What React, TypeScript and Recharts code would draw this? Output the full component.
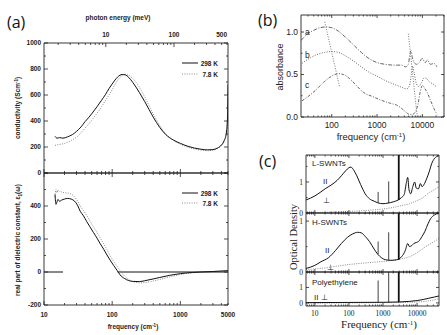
import React from "react";
import { LineChart, Line, XAxis, YAxis } from "recharts";

// ---------- panel (a): conductivity and dielectric constant ----------
const sigFreq298 = [14.5, 15.5, 17, 19, 22, 26, 30, 35, 40, 45, 50, 60, 70, 80, 90, 100, 110, 120, 130, 140, 155, 175, 200, 250, 300, 400, 500, 600, 800, 1000, 1300, 1600, 2000, 2500, 3000, 3500, 4000, 4400, 4700, 4900, 5000];
const sig298 = [282, 268, 272, 268, 278, 295, 320, 355, 395, 425, 455, 510, 560, 605, 650, 685, 715, 738, 752, 758, 755, 735, 698, 620, 550, 430, 350, 300, 252, 228, 205, 192, 183, 178, 180, 192, 215, 250, 300, 400, 680];
const sigFreq78 = [14.5, 16, 18, 20, 23, 26, 30, 35, 40, 45, 50, 60, 70, 80, 90, 100, 110, 120, 130, 140, 155, 175, 200, 250, 300, 400, 500, 600, 800, 1000, 1300, 1600, 2000, 2500, 3000, 3500, 4000, 4400, 4700, 5000];
const sig78 = [212, 218, 222, 228, 240, 255, 275, 310, 345, 375, 405, 460, 510, 560, 600, 640, 680, 712, 735, 750, 758, 752, 728, 660, 585, 455, 365, 305, 250, 222, 198, 185, 176, 172, 175, 188, 210, 245, 300, 520];

const epsFreq298 = [14.5, 15, 15.5, 16, 17, 18, 20, 22, 25, 28, 31, 34, 38, 42, 47, 53, 60, 66, 75, 84, 93, 105, 118, 131, 150, 175, 200, 250, 300, 400, 500, 700, 1000, 1500, 2000, 3000, 5000];
const eps298 = [470, 410, 425, 440, 428, 435, 442, 446, 442, 430, 405, 368, 340, 308, 275, 240, 205, 175, 138, 103, 73, 40, 10, -18, -38, -52, -57, -58, -53, -42, -33, -20, -10, -3, 0, 3, 8];
const epsFreq78 = [14.5, 15, 15.5, 16, 17, 18, 20, 23, 26, 30, 34, 38, 42, 47, 53, 60, 66, 75, 84, 93, 105, 118, 131, 150, 175, 200, 250, 300, 400, 500, 700, 1000, 1500, 2000, 3000, 5000];
const eps78 = [455, 500, 480, 495, 488, 485, 480, 478, 468, 440, 400, 372, 345, 310, 275, 240, 210, 170, 135, 100, 65, 35, 8, -22, -45, -57, -66, -64, -55, -45, -30, -15, -5, 0, 3, 8];
const epsZeroSegs = [[10, 19], [120, 5000]];

const aFreqLabels = [10, 100, 1000, 5000];
const aMevLabels = [10, 100, 500];
const sigLabels = [0, 200, 400, 600, 800, 1000];
const epsLabels = [-200, 0, 200, 400];
const CM_PER_MEV = 8.0655;

// ---------- panel (b): absorbance ----------
const absFreqA = [21, 28, 40, 55, 75, 100, 140, 200, 300, 450, 700, 1000, 1500, 2500, 3500, 4300, 4900, 5300, 5600, 6000, 6600, 7500, 8500, 10000, 11500, 13000, 15000, 18000, 21000];
const absA = [0.9, 0.97, 1.02, 1.05, 1.06, 1.05, 1.01, 0.94, 0.85, 0.76, 0.68, 0.64, 0.62, 0.61, 0.61, 0.59, 0.62, 0.74, 0.78, 0.7, 0.64, 0.62, 0.64, 0.69, 0.64, 0.67, 0.62, 0.63, 0.59];
const absFreqB = [22, 30, 45, 70, 100, 140, 200, 300, 450, 700, 1000, 1500, 2500, 3500, 4500, 5200, 5700, 6100, 6600, 7300, 8200, 9500, 11000, 12500, 14500, 17000, 21000];
const absB = [0.63, 0.68, 0.73, 0.76, 0.77, 0.76, 0.72, 0.66, 0.59, 0.52, 0.48, 0.43, 0.38, 0.35, 0.33, 0.37, 0.5, 0.6, 0.52, 0.4, 0.36, 0.4, 0.46, 0.45, 0.41, 0.39, 0.35];
const absFreqC = [22, 30, 45, 70, 100, 140, 180, 250, 350, 500, 800, 1200, 2000, 2700, 3500, 4500, 5200, 6000, 7000, 8000, 9000, 10000, 11500, 13000, 15000, 18000, 21000];
const absC = [0.19, 0.24, 0.32, 0.42, 0.48, 0.51, 0.5, 0.45, 0.37, 0.29, 0.24, 0.2, 0.16, 0.14, 0.1, 0.05, 0.03, 0.03, 0.06, 0.15, 0.3, 0.37, 0.33, 0.28, 0.2, 0.1, 0.03];
const peakShiftLow = { f: [70, 150], v: [1.12, 0.35] };
const peakShiftHigh = { f: [4900, 7700], v: [0.98, 0] };
const bFreqLabels = [100, 1000, 10000];
const absLabels = [0, 0.5, 1.0];

// ---------- panel (c): optical density ----------
const lParF = [5.5, 10, 15, 20, 30, 45, 60, 80, 100, 115, 135, 170, 220, 300, 400, 550, 700, 1000, 1400, 2000, 2800, 3500, 4200, 4800, 5300, 5800, 6500, 7500, 8500, 9500, 11000, 12500, 14000, 16000, 19000, 23000, 27000, 32000, 44000];
const lPar = [0.42, 0.55, 0.68, 0.78, 0.9, 1.05, 1.2, 1.36, 1.46, 1.48, 1.4, 1.2, 0.92, 0.62, 0.46, 0.38, 0.33, 0.3, 0.32, 0.36, 0.42, 0.5, 0.6, 0.95, 1.15, 0.75, 0.62, 0.85, 1.0, 0.8, 0.78, 0.95, 0.85, 0.92, 1.1, 1.35, 1.6, 1.75, 1.85];
const lPerpF = [5.5, 15, 30, 100, 300, 1000, 2000, 3500, 6000, 10000, 15000, 22000, 32000, 44000];
const lPerp = [0.0, 0.02, 0.03, 0.05, 0.08, 0.13, 0.18, 0.24, 0.3, 0.4, 0.5, 0.65, 0.75, 0.85];
const hParF = [5.5, 10, 15, 25, 40, 60, 90, 130, 180, 230, 300, 400, 550, 700, 900, 1200, 1700, 2500, 3500, 4500, 5300, 6000, 7000, 8000, 9500, 11000, 14000, 17000, 21000, 25000, 32000, 44000];
const hPar = [0.07, 0.13, 0.2, 0.28, 0.42, 0.56, 0.68, 0.75, 0.78, 0.77, 0.7, 0.6, 0.45, 0.35, 0.28, 0.24, 0.23, 0.24, 0.3, 0.42, 0.56, 0.5, 0.52, 0.56, 0.58, 0.6, 0.7, 0.8, 0.95, 1.05, 1.12, 1.16];
const hPerpF = [5.5, 20, 50, 150, 500, 1500, 3000, 6000, 10000, 18000, 32000, 44000];
const hPerp = [0.05, 0.08, 0.12, 0.16, 0.19, 0.22, 0.25, 0.3, 0.38, 0.5, 0.6, 0.66];
const peParF = [5.5, 100, 1000, 3000, 6000, 10000, 15000, 22000, 32000, 44000];
const pePar = [0.02, 0.03, 0.04, 0.06, 0.1, 0.15, 0.22, 0.3, 0.38, 0.45];
const pePerpF = [5.5, 100, 1000, 3000, 10000, 32000, 44000];
const pePerp = [-0.02, 0.0, 0.02, 0.03, 0.06, 0.2, 0.28];
// polyethylene CH2 modes
const ch2Modes = [720, 1470, 2900];
const lSpikeLow = [0.33, 0.32, 0.42];
const lSpikeHigh = [0.68, 1.02, 3];
const hSpikeLow = [0.35, 0.23, 0.24];
const hSpikeHigh = [0.6, 0.78, 3];
const peSpikeLow = [0.03, 0.04, 0.05];
const peSpikeHigh = [1.45, 3, 3];
const cFreqLabels = [10, 100, 1000, 10000];

// ---------- helpers ----------
const zip = (f: number[], v: number[]) => f.map((x, i) => ({ f: x, v: v[i] }));

const logTicks = (lo: number, hi: number) => {
  const out: number[] = [];
  for (let d = Math.pow(10, Math.floor(Math.log10(lo))); d <= hi; d *= 10) {
    for (let m = 1; m < 10; m++) {
      const t = Math.round(m * d * 1000) / 1000;
      if (t >= lo * 0.9999 && t <= hi * 1.0001) out.push(t);
    }
  }
  return out;
};
const linTicks = (lo: number, hi: number, step: number) => {
  const out: number[] = [];
  for (let t = lo; t <= hi + 1e-9; t += step) out.push(Math.round(t * 1000) / 1000);
  return out;
};
const near = (list: number[], v: number) =>
  list.some((t) => Math.abs(t - v) <= Math.abs(v) * 1e-4 + 1e-9);

type Font = { size: number; family: string; weight?: string; gapB: number; gapT: number };
type Spec = {
  dom: [number, number];
  ticks: number[];
  major: number[];
  labels: number[];
  log?: boolean;
  fmt?: (v: number) => string;
};
type Side = "b" | "t" | "l" | "r";

const INK = "#222";

const tickR = (side: Side, s: Spec, font: Font, len: [number, number]) => (p: any) => {
  const v = p.payload.value as number;
  const L = near(s.major, v) ? len[0] : len[1];
  const txt = near(s.labels, v) ? (s.fmt ? s.fmt(v) : String(v)) : "";
  const x = p.x;
  const y = p.y;
  const tp = {
    fontSize: font.size,
    fontFamily: font.family,
    fontWeight: font.weight ?? "normal",
    fill: INK,
  };
  let ln;
  let tx = null;
  if (side === "b") {
    ln = <line x1={x} x2={x} y1={y} y2={y - L} stroke={INK} strokeWidth={0.8} />;
    if (txt) tx = <text x={x} y={y + font.gapB + font.size * 0.75} textAnchor="middle" {...tp}>{txt}</text>;
  } else if (side === "t") {
    ln = <line x1={x} x2={x} y1={y} y2={y + L} stroke={INK} strokeWidth={0.8} />;
    if (txt) tx = <text x={x} y={y - font.gapT} textAnchor="middle" {...tp}>{txt}</text>;
  } else if (side === "l") {
    ln = <line x1={x} x2={x + L} y1={y} y2={y} stroke={INK} strokeWidth={0.8} />;
    if (txt) tx = <text x={x - 3} y={y + font.size * 0.35} textAnchor="end" {...tp}>{txt}</text>;
  } else {
    ln = <line x1={x} x2={x - L} y1={y} y2={y} stroke={INK} strokeWidth={0.8} />;
  }
  return (
    <g>
      {ln}
      {tx}
    </g>
  );
};

const PL = 40;
const PR = 8;
const PT = 22;
const PB = 24;

type Box = { x0: number; y0: number; x1: number; y1: number };

function panel(
  key: string,
  box: Box,
  x: Spec,
  y: Spec,
  font: Font,
  len: [number, number],
  lines: React.ReactNode[],
  top?: Spec
) {
  const w = box.x1 - box.x0 + PL + PR;
  const h = box.y1 - box.y0 + PT + PB;
  const noLab = (s: Spec): Spec => ({ ...s, labels: [] });
  const topSpec = top ?? noLab(x);
  const common = {
    allowDataOverflow: true,
    interval: 0 as const,
    tickLine: false,
    tickSize: 0,
    tickMargin: 0,
    axisLine: { stroke: INK, strokeWidth: 0.9 },
  };
  return (
    <div key={key} style={{ position: "absolute", left: box.x0 - PL, top: box.y0 - PT }}>
      <LineChart width={w} height={h} margin={{ top: 0, right: 0, bottom: 0, left: 0 }}>
        <XAxis
          xAxisId="b"
          type="number"
          dataKey="f"
          scale={x.log ? "log" : "linear"}
          domain={x.dom}
          ticks={x.ticks}
          height={PB}
          tick={tickR("b", x, font, len)}
          {...common}
        />
        <XAxis
          xAxisId="t"
          orientation="top"
          type="number"
          dataKey="f"
          scale={topSpec.log ? "log" : "linear"}
          domain={topSpec.dom}
          ticks={topSpec.ticks}
          height={PT}
          tick={tickR("t", topSpec, font, len)}
          {...common}
        />
        <YAxis
          yAxisId="l"
          type="number"
          domain={y.dom}
          ticks={y.ticks}
          width={PL}
          tick={tickR("l", y, font, len)}
          {...common}
        />
        <YAxis
          yAxisId="r"
          orientation="right"
          type="number"
          domain={y.dom}
          ticks={y.ticks}
          width={PR}
          tick={tickR("r", y, font, len)}
          {...common}
        />
        {lines}
      </LineChart>
    </div>
  );
}

const series = (
  id: string,
  data: { f: number; v: number }[],
  stroke: string,
  dash?: string,
  width = 1,
  kind: "monotone" | "linear" = "monotone"
) => (
  <Line
    key={id}
    xAxisId="b"
    yAxisId="l"
    data={data}
    dataKey="v"
    type={kind}
    stroke={stroke}
    strokeWidth={width}
    strokeDasharray={dash}
    dot={false}
    activeDot={false}
    isAnimationActive={false}
  />
);

const spikes = (id: string, lo: number[], hi: number[]) =>
  ch2Modes.map((f, i) =>
    series(`${id}${i}`, zip([f, f], [lo[i], hi[i]]), "#111", undefined, i === 2 ? 1.8 : 0.8, "linear")
  );

// ---------- layout ----------
const A_TOP: Box = { x0: 44, y0: 43, x1: 228, y1: 173 };
const A_BOT: Box = { x0: 44, y0: 173, x1: 228, y1: 305 };
const B_BOX: Box = { x0: 301, y0: 15, x1: 444, y1: 117 };
const C1: Box = { x0: 306, y0: 155, x1: 439, y1: 213 };
const C2: Box = { x0: 306, y0: 213, x1: 439, y1: 272 };
const C3: Box = { x0: 306, y0: 272, x1: 439, y1: 306 };

const fontA: Font = { size: 6.5, family: "Liberation Sans, Arial, sans-serif", weight: "bold", gapB: 7, gapT: 6 };
const fontB: Font = { size: 8.5, family: "Liberation Sans, Arial, sans-serif", gapB: 4.5, gapT: 4 };
const fontC: Font = { size: 7.5, family: "Liberation Serif, Times New Roman, serif", gapB: 4.5, gapT: 4 };

const aFreq: Spec = { dom: [10, 5000], ticks: logTicks(10, 5000), major: [10, 100, 1000], labels: aFreqLabels, log: true };
const aMev: Spec = {
  dom: [10 / CM_PER_MEV, 5000 / CM_PER_MEV],
  ticks: logTicks(10 / CM_PER_MEV, 5000 / CM_PER_MEV),
  major: [10, 100],
  labels: aMevLabels,
  log: true,
};
const sigSpec: Spec = { dom: [0, 1000], ticks: linTicks(0, 1000, 100), major: sigLabels, labels: sigLabels };
const epsSpec: Spec = { dom: [-200, 600], ticks: linTicks(-200, 600, 100), major: [-200, 0, 200, 400, 600], labels: epsLabels };

const bFreq: Spec = { dom: [21, 30000], ticks: logTicks(21, 30000), major: bFreqLabels, labels: bFreqLabels, log: true };
const absSpec: Spec = { dom: [0, 1.2], ticks: linTicks(0, 1.0, 0.25), major: absLabels, labels: absLabels, fmt: (v) => v.toFixed(1) };

const cFreq: Spec = { dom: [5.5, 44000], ticks: logTicks(5.5, 44000), major: cFreqLabels, labels: cFreqLabels, log: true };
const c1Spec: Spec = { dom: [0, 1.87], ticks: [0, 0.5, 1, 1.5], major: [0, 1], labels: [0, 1] };
const c2Spec: Spec = { dom: [0, 1.16], ticks: [0, 0.5, 1], major: [0, 1], labels: [0, 1] };
const c3Spec: Spec = { dom: [-0.2, 2.0], ticks: [0, 1], major: [0, 1], labels: [0, 1] };

const GREY = "#8a8a8a";

export default function App() {
  const sans = "Liberation Sans, Arial, sans-serif";
  const serif = "Liberation Serif, Times New Roman, serif";
  const ta = { fontFamily: sans, fontSize: 6.5, fontWeight: "bold" as const, fill: INK };
  const tc = { fontFamily: sans, fontSize: 8, fill: INK };
  return (
    <div style={{ position: "absolute", left: 0, top: 0, width: 447, height: 335, background: "#fff", overflow: "hidden" }}>
      {panel("aTop", A_TOP, { ...aFreq, labels: [] }, sigSpec, fontA, [4, 2], [
        series("s78", zip(sigFreq78, sig78), GREY, "1 1.4"),
        series("s298", zip(sigFreq298, sig298), "#111"),
      ], aMev)}
      {panel("aBot", A_BOT, aFreq, epsSpec, fontA, [4, 2], [
        ...epsZeroSegs.map((s, i) => series(`z${i}`, zip(s, [0, 0]), "#111", undefined, 1, "linear")),
        series("e78", zip(epsFreq78, eps78), GREY, "1 1.4"),
        series("e298", zip(epsFreq298, eps298), "#111"),
      ])}
      {panel("b", B_BOX, bFreq, absSpec, fontB, [3, 1.5], [
        series("pa", zip(absFreqA, absA), "#666", "4 1.5 1 1.5"),
        series("pb", zip(absFreqB, absB), "#666", "1 1.5"),
        series("pc", zip(absFreqC, absC), "#666", "3 1.5 1 1.5"),
        series("k1", zip(peakShiftLow.f, peakShiftLow.v), "#777", "1 1.5", 1, "linear"),
        series("k2", zip(peakShiftHigh.f, peakShiftHigh.v), "#777", "1 1.5", 1, "linear"),
      ])}
      {panel("c1", C1, { ...cFreq, labels: [] }, c1Spec, fontC, [3, 1.5], [
        series("lp", zip(lPerpF, lPerp), GREY, "1 1.3"),
        ...spikes("ls", lSpikeLow, lSpikeHigh),
        series("ll", zip(lParF, lPar), "#111"),
      ])}
      {panel("c2", C2, { ...cFreq, labels: [] }, c2Spec, fontC, [3, 1.5], [
        series("hp", zip(hPerpF, hPerp), GREY, "1 1.3"),
        ...spikes("hs", hSpikeLow, hSpikeHigh),
        series("hl", zip(hParF, hPar), "#111"),
      ])}
      {panel("c3", C3, cFreq, c3Spec, fontC, [3, 1.5], [
        series("pp", zip(pePerpF, pePerp), GREY, "1 1.3"),
        ...spikes("ps", peSpikeLow, peSpikeHigh),
        series("pl", zip(peParF, pePar), "#111"),
      ])}

      <svg width={447} height={335} style={{ position: "absolute", left: 0, top: 0, pointerEvents: "none" }}>
        {/* panel (a) */}
        <text x={7} y={28} fontFamily="Open Sans, sans-serif" fontSize={16} fill="#111">(a)</text>
        <text x={118} y={20} textAnchor="middle" {...ta}>photon energy (meV)</text>
        <text x={133} y={329} textAnchor="middle" {...ta}>
          frequency (cm<tspan dy={-2} fontSize={4.5}>-1</tspan><tspan dy={2}>)</tspan>
        </text>
        <text transform="translate(20,108) rotate(-90)" textAnchor="middle" {...ta}>
          conductivity (Scm<tspan dy={-2} fontSize={4.5}>-1</tspan><tspan dy={2}>)</tspan>
        </text>
        <text transform="translate(20,240) rotate(-90)" textAnchor="middle" {...ta}>
          real part of dielectric constant, ε<tspan dy={1.5} fontSize={4.5}>1</tspan><tspan dy={-1.5}>(ω)</tspan>
        </text>
        <line x1={182} x2={198} y1={63} y2={63} stroke="#111" />
        <text x={218} y={65.5} textAnchor="end" {...ta}>298 K</text>
        <line x1={182} x2={198} y1={74} y2={74} stroke={GREY} strokeDasharray="1 1.4" />
        <text x={218} y={76.5} textAnchor="end" {...ta}>7.8 K</text>
        <line x1={182} x2={198} y1={193} y2={193} stroke="#111" />
        <text x={218} y={195.5} textAnchor="end" {...ta}>298 K</text>
        <line x1={182} x2={198} y1={203} y2={203} stroke={GREY} strokeDasharray="1 1.4" />
        <text x={218} y={205.5} textAnchor="end" {...ta}>7.8 K</text>

        {/* panel (b) */}
        <text x={258} y={26} fontFamily="Open Sans, sans-serif" fontSize={16} fill="#111">(b)</text>
        <text x={305} y={35} fontFamily={sans} fontSize={8.5} fill={INK}>a</text>
        <text x={305} y={58} fontFamily={sans} fontSize={8.5} fill={INK}>b</text>
        <text x={305} y={88} fontFamily={sans} fontSize={8.5} fill={INK}>c</text>
        <text transform="translate(283,67) rotate(-90)" textAnchor="middle" fontFamily={sans} fontSize={9} fill={INK}>absorbance</text>
        <text x={371} y={140} textAnchor="middle" fontFamily={sans} fontSize={9.5} fill={INK}>
          frequency (cm<tspan dy={-3} fontSize={6}>-1</tspan><tspan dy={3}>)</tspan>
        </text>

        {/* panel (c) */}
        <text x={259} y={167} fontFamily="Open Sans, sans-serif" fontSize={16} fill="#111">(c)</text>
        <text x={312} y={166} {...tc}>L-SWNTs</text>
        <text x={323} y={184} {...tc}>II</text>
        <text x={323} y={203} {...tc}>⊥</text>
        <text x={312} y={225} {...tc}>H-SWNTs</text>
        <text x={325} y={253} {...tc}>II</text>
        <text x={327} y={270} {...tc}>⊥</text>
        <text x={312} y={285} {...tc}>Polyethylene</text>
        <text x={314} y={300} {...tc}>II ⊥</text>
        <text transform="translate(297,237) rotate(-90)" textAnchor="middle" fontFamily={serif} fontSize={10.5} fill={INK}>Optical Density</text>
        <text x={379} y={328} textAnchor="middle" fontFamily={serif} fontSize={11} fill={INK}>
          Frequency (cm<tspan dy={-3.5} fontSize={7}>-1</tspan><tspan dy={3.5}>)</tspan>
        </text>
      </svg>
    </div>
  );
}
